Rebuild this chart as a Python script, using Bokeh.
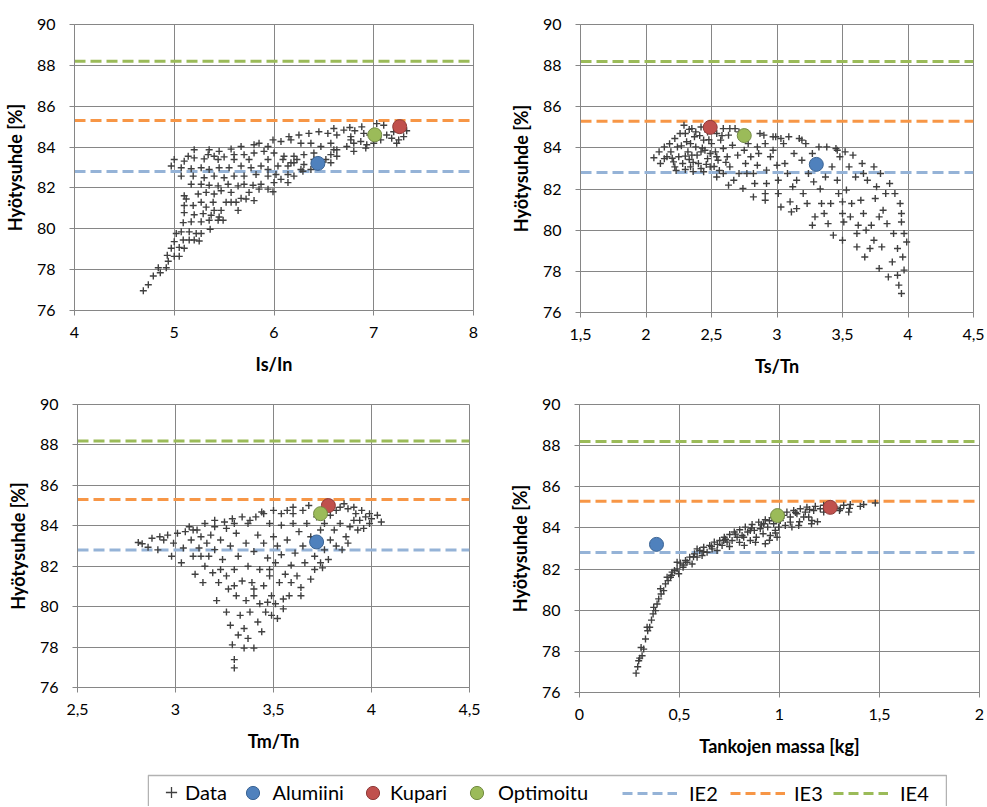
from bokeh.plotting import figure
from bokeh.models import Span, FixedTicker, Legend, LegendItem, BoxAnnotation, Spacer
from bokeh.layouts import row, column
from bokeh.embed import file_html
from bokeh.resources import INLINE

# ---------------- data ----------------
IE2, IE3, IE4 = 82.8, 85.3, 88.2
y_ticks = [76, 78, 80, 82, 84, 86, 88, 90]

# Alumiini, Kupari, Optimoitu efficiency [%]
eff_alu, eff_kup, eff_opt = 83.2, 85.0, 84.6

# Panel 1: Is/In
is_in = [4.69,4.74,4.79,4.84,4.86,4.92,4.94,4.93,4.97,5.00,
5.05,5.10,5.00,5.05,5.02,5.09,5.15,5.20,5.25,5.07,
5.15,5.22,5.27,5.36,5.09,5.17,5.27,5.35,5.44,5.49,
5.10,5.20,5.29,5.37,5.45,5.10,5.12,5.10,5.19,5.27,
5.32,5.39,5.40,5.47,5.52,5.57,5.64,5.62,5.24,5.32,
5.40,5.47,5.57,5.67,5.72,5.80,5.75,5.85,5.94,5.99,
5.17,5.27,5.35,5.44,5.54,5.64,5.70,5.79,5.87,6.00,
6.07,6.14,5.07,5.19,5.30,5.40,5.50,5.60,5.70,5.82,
5.94,6.02,6.14,6.20,6.29,6.37,4.97,5.07,5.17,5.27,
5.35,5.45,5.55,5.67,5.77,5.87,5.94,6.04,6.14,6.20,
6.30,5.00,5.10,5.20,5.30,5.40,5.50,5.60,5.70,5.80,
5.90,6.00,6.10,6.20,6.30,6.40,6.52,6.57,6.63,5.14,
5.20,5.34,5.35,5.45,5.57,5.67,5.80,5.85,5.94,5.99,
6.07,6.17,6.27,6.37,6.47,6.57,6.63,6.73,6.80,6.77,
6.87,6.93,6.92,7.00,7.07,6.15,6.25,6.35,6.45,6.54,
6.63,6.60,6.70,6.76,6.81,6.88,6.90,6.96,7.03,7.10,
7.13,7.20,7.25,7.30,7.33,7.23,7.18,6.77,6.80,6.60,
6.57,6.40,6.47,6.42,6.27,6.23,6.17,6.09,5.44,5.60,
5.75,5.94]
eff1 = [76.97,77.26,77.69,78.09,77.85,78.09,78.41,78.70,79.05,79.37,
79.09,79.05,78.65,78.65,79.77,79.45,79.45,79.45,79.40,79.85,
79.85,79.77,79.77,79.98,80.30,80.34,80.34,80.42,80.42,80.42,
80.79,80.69,80.74,80.66,80.58,81.14,81.46,81.62,81.14,81.30,
81.06,81.30,80.90,80.90,81.30,81.30,80.90,81.30,81.70,81.78,
81.70,81.86,81.78,81.49,81.46,81.38,81.78,81.94,81.94,81.81,
82.18,82.18,82.13,82.10,82.18,82.10,82.18,82.13,82.18,82.26,
82.42,82.26,82.58,82.58,82.50,82.58,82.50,82.58,82.58,82.66,
82.58,82.66,82.66,82.58,82.82,82.90,83.07,82.99,82.94,82.99,
82.90,82.99,82.99,83.07,82.99,83.07,82.90,83.07,83.07,83.23,
83.15,83.39,83.31,83.47,83.42,83.55,83.52,83.63,83.63,83.71,
83.79,83.71,83.55,83.55,83.63,83.71,83.39,83.23,83.55,83.55,
83.87,83.63,83.87,83.79,83.90,84.03,84.11,84.19,84.03,84.35,
84.27,84.35,84.19,84.19,84.03,84.19,83.87,84.03,83.79,84.35,
84.27,84.11,83.95,84.19,84.35,84.51,84.59,84.67,84.75,84.67,
84.59,84.91,84.83,84.96,84.80,84.99,84.67,84.59,85.15,85.07,
84.59,84.75,84.35,84.51,84.80,84.19,84.43,84.51,84.19,83.87,
83.63,83.39,83.23,83.07,82.90,83.39,83.23,83.39,83.39,83.39,
83.39,83.39]
is_in_alu, is_in_kup, is_in_opt = 6.44, 7.26, 7.01

# Panel 2: Ts/Tn
ts_tn = [2.06,2.10,2.11,2.14,2.16,2.19,2.21,2.22,2.24,2.25,
2.28,2.29,2.30,2.31,2.32,2.33,2.34,2.35,2.37,2.38,
2.39,2.40,2.42,2.42,2.44,2.45,2.47,2.44,2.49,2.50,
2.53,2.54,2.55,2.57,2.59,2.59,2.62,2.63,2.64,2.66,
2.68,2.70,2.71,2.67,2.63,2.59,2.54,2.75,2.76,2.77,
2.74,2.78,2.80,2.82,2.83,2.82,2.85,2.86,2.87,2.90,
2.91,2.92,2.92,2.91,2.91,2.95,2.97,2.99,3.00,3.01,
3.01,3.03,3.05,3.06,3.08,3.09,3.10,3.11,3.12,3.13,
3.15,3.15,3.17,3.19,3.20,3.22,3.23,3.24,3.27,3.27,
3.28,3.29,3.32,3.33,3.34,3.36,3.37,3.38,3.39,3.41,
3.42,3.43,3.45,3.46,3.47,3.48,3.50,3.50,3.50,3.51,
3.52,3.53,3.55,3.56,3.57,3.58,3.60,3.61,3.61,3.62,
3.64,3.65,3.66,3.67,3.68,3.69,3.71,3.72,3.74,3.74,
3.75,3.76,3.78,3.78,3.79,3.80,3.81,3.83,3.84,3.85,
3.86,3.88,3.89,3.90,3.92,3.92,3.93,3.94,3.95,3.95,
3.95,3.96,3.97,3.97,3.99,2.26,2.34,2.38,2.47,2.22,
2.14,2.42,2.35,2.49,2.54,2.64,2.71,2.85,2.97,3.03,
3.19,3.46,3.66,2.27,2.30,2.33,2.36,2.41,2.43,2.46,
2.48,2.52,2.56,2.58,2.61,2.20,2.18,2.23,2.30,2.36]
eff2 = [83.52,83.81,83.24,84.05,83.57,83.81,83.32,84.46,84.05,83.57,
83.24,85.10,84.70,84.30,83.81,83.44,83.08,84.94,84.54,84.05,
83.65,83.24,83.00,85.02,84.38,83.89,83.48,82.84,83.08,84.21,
83.81,84.70,83.40,84.38,83.97,84.94,83.57,84.62,83.08,84.13,
84.94,83.65,82.76,82.43,82.19,82.76,82.59,83.89,83.24,82.76,
82.03,84.21,83.57,81.62,82.27,82.76,83.16,83.73,84.70,84.62,
84.21,82.92,82.27,81.46,81.78,83.57,83.89,84.54,83.16,81.78,
82.43,81.13,84.21,83.24,82.76,84.54,81.38,80.89,82.11,83.73,
82.43,81.05,84.46,83.40,81.78,84.21,81.30,82.76,83.73,80.24,
82.35,80.65,84.05,82.00,81.30,80.81,82.59,84.05,80.32,81.30,
83.08,79.76,83.97,82.43,81.78,83.57,79.51,80.81,81.38,80.40,
83.81,81.95,83.08,80.65,81.30,83.65,82.59,79.84,79.19,80.24,
81.46,83.24,80.81,78.70,80.00,82.43,79.11,80.24,83.08,79.51,
81.54,82.11,80.65,78.14,82.76,79.19,80.97,81.78,80.32,77.73,
82.27,78.46,79.84,81.78,79.11,77.81,77.33,81.30,80.81,76.92,
80.40,78.70,79.84,78.06,79.43,84.70,84.21,84.78,84.78,83.08,
83.48,83.81,83.65,83.73,83.57,84.94,84.78,84.05,84.54,84.46,
84.38,83.89,82.76,84.10,83.60,84.90,83.30,84.60,84.00,83.20,
84.40,83.10,82.90,84.60,83.30,83.50,84.20,82.90,82.95,82.85]
ts_tn_alu, ts_tn_kup, ts_tn_opt = 3.30, 2.49, 2.75

# Panel 3: Tm/Tn
tm_tn = [2.81,2.83,2.86,2.88,2.91,2.92,2.94,2.96,2.98,2.99,
3.01,3.03,3.04,3.05,3.07,3.08,3.09,3.10,3.11,3.12,
3.13,3.14,3.15,3.15,3.16,3.17,3.18,3.19,3.20,3.20,
3.21,3.22,3.23,3.24,3.25,3.26,3.26,3.26,3.27,3.28,
3.28,3.29,3.29,3.30,3.30,3.30,3.31,3.31,3.32,3.32,
3.33,3.34,3.34,3.35,3.35,3.36,3.36,3.37,3.37,3.37,
3.38,3.39,3.40,3.40,3.40,3.41,3.42,3.42,3.43,3.43,
3.44,3.44,3.45,3.45,3.46,3.47,3.48,3.48,3.49,3.49,
3.50,3.50,3.51,3.51,3.52,3.52,3.53,3.54,3.54,3.55,
3.56,3.57,3.57,3.58,3.59,3.60,3.60,3.61,3.62,3.63,
3.64,3.65,3.65,3.66,3.67,3.68,3.69,3.69,3.71,3.71,
3.72,3.74,3.74,3.75,3.76,3.76,3.78,3.79,3.79,3.81,
3.82,3.82,3.84,3.85,3.86,3.87,3.88,3.88,3.89,3.91,
3.92,3.93,3.94,3.95,3.96,3.97,3.99,3.99,4.00,4.03,
4.05,3.09,3.20,3.30,3.38,3.45,3.54,3.60,3.74,3.84,
3.91,3.13,3.23,3.30,3.40,3.48,3.59,3.64,3.55,3.47]
eff3 = [83.17,83.11,82.94,83.38,82.81,83.46,83.30,83.54,82.49,83.14,
83.63,82.17,82.90,83.71,83.95,83.30,82.49,81.60,83.79,82.90,
83.46,81.19,82.00,84.11,83.14,82.49,83.54,81.68,83.95,82.82,
80.30,81.19,83.30,82.33,84.19,81.52,79.73,83.87,80.87,83.00,
79.08,84.35,78.11,76.97,77.38,81.84,80.54,83.63,78.60,82.49,
79.57,81.27,84.44,77.95,78.92,83.14,80.30,82.00,84.11,78.43,
79.73,81.19,77.95,82.73,80.54,84.44,79.24,83.54,81.84,80.14,
78.76,84.68,81.03,83.14,79.73,82.41,84.11,81.52,80.54,79.57,
83.46,84.76,82.17,80.14,79.41,83.00,81.19,84.03,82.57,79.89,
81.60,84.76,83.30,80.54,82.05,84.11,84.92,82.65,81.52,83.71,
80.95,84.76,83.00,82.17,84.11,85.00,81.36,83.46,82.49,81.84,
84.44,82.17,83.79,81.92,82.81,84.11,82.33,83.30,84.52,83.79,
84.76,83.00,84.11,82.81,85.09,83.46,83.14,84.84,83.95,84.27,
84.60,83.79,84.27,84.76,83.87,84.44,84.11,84.60,84.35,84.52,
84.19,83.79,84.27,84.11,84.27,84.60,84.60,84.60,84.76,84.92,
84.92,82.49,81.84,81.03,80.87,81.84,81.19,80.54,80.38,80.22]
tm_tn_alu, tm_tn_kup, tm_tn_opt = 3.72, 3.78, 3.74

# Panel 4: Tankojen massa [kg]
massa = [0.283,0.291,0.301,0.313,0.321,0.330,0.341,0.351,0.360,0.368,
0.380,0.388,0.396,0.408,0.421,0.430,0.443,0.455,0.463,0.475,
0.488,0.496,0.505,0.518,0.530,0.538,0.551,0.563,0.575,0.588,
0.601,0.613,0.621,0.638,0.651,0.663,0.674,0.688,0.701,0.713,
0.724,0.738,0.751,0.763,0.774,0.788,0.801,0.813,0.824,0.829,
0.841,0.854,0.863,0.874,0.884,0.896,0.904,0.918,0.929,0.929,
0.941,0.954,0.963,0.971,0.979,0.988,1.004,1.021,1.029,1.037,
1.054,1.062,1.071,1.087,1.096,1.104,1.129,1.137,1.146,1.162,
1.171,1.179,1.204,1.221,1.304,1.321,1.346,1.354,1.404,1.421,
1.479,0.721,0.821,0.854,0.921,0.996,1.054,1.121,1.221,1.279,
0.588,0.488,0.438,0.405,0.371,0.338,0.308,0.296,0.46,0.52,
0.57,0.62,0.66,0.69,0.73,0.78,0.86,0.91,0.95,1.00,
1.08,1.15,1.25,0.75,0.80,0.88,0.95,0.98,1.10,1.16,
1.19,1.30,1.35]
eff4 = [76.94,77.25,77.67,77.79,78.11,78.60,79.00,79.17,79.52,79.82,
79.98,80.30,80.55,80.79,80.95,81.28,81.44,81.60,81.85,81.93,
82.01,81.77,82.29,82.09,82.42,82.33,82.58,82.25,82.74,82.58,
82.90,82.66,83.06,82.82,83.15,82.98,83.31,82.90,83.39,83.15,
83.55,83.31,83.68,83.39,83.80,83.55,83.91,83.63,83.15,84.04,
83.80,83.39,84.17,83.88,83.55,84.28,83.96,83.72,83.23,84.40,
84.04,83.63,84.50,84.20,83.88,83.55,84.36,84.61,84.12,84.77,
84.53,84.04,84.85,84.69,84.12,84.93,84.77,85.01,84.53,84.36,
84.85,85.05,84.93,85.10,84.93,85.10,84.77,85.14,85.05,85.14,
85.21,83.39,83.55,83.88,84.20,84.04,84.28,84.53,84.77,85.01,
82.98,82.33,81.60,81.04,80.14,79.17,78.19,77.54,81.70,82.20,
82.60,82.85,83.10,83.20,83.45,83.70,84.00,84.15,84.35,84.55,
84.75,84.90,85.00,83.10,83.30,83.30,83.40,83.75,84.30,84.20,
84.30,84.85,84.95]
massa_alu, massa_kup, massa_opt = 0.385, 1.254, 0.99

# x axis ticks and labels
x1_ticks, x1_labels = [4, 5, 6, 7, 8], ["4", "5", "6", "7", "8"]
x2_ticks, x2_labels = [1.5, 2, 2.5, 3, 3.5, 4, 4.5], ["1,5", "2", "2,5", "3", "3,5", "4", "4,5"]
x3_ticks, x3_labels = [2.5, 3, 3.5, 4, 4.5], ["2,5", "3", "3,5", "4", "4,5"]
x4_ticks, x4_labels = [0, 0.5, 1, 1.5, 2], ["0", "0,5", "1", "1,5", "2"]

labels = ["Data", "Alumiini", "Kupari", "Optimoitu", "IE2", "IE3", "IE4"]

# ---------------- styling ----------------
GRID = "#868686"
FONT = "Lato"
DATA_C = "#404040"
ALU_F, ALU_L = "#4F81BD", "#3B6494"
KUP_F, KUP_L = "#C0504D", "#8E3B39"
OPT_F, OPT_L = "#9BBB59", "#738B42"
IE2_C, IE3_C, IE4_C = "#95B3D7", "#F79646", "#9BBB59"
DASH = "11 5"


def panel(xs, ys, xa, xk, xo, xlabel, ticks, tlabels, width, height, bl, br, bt, bb):
    p = figure(width=width, height=height, x_range=(ticks[0], ticks[-1]), y_range=(76, 90),
               output_backend="svg", toolbar_location=None,
               min_border_left=bl, min_border_right=br, min_border_top=bt, min_border_bottom=bb)
    p.background_fill_color = "white"
    p.border_fill_color = "white"
    p.outline_line_color = GRID
    p.outline_line_width = 1
    p.xaxis.ticker = FixedTicker(ticks=ticks)
    p.xaxis.major_label_overrides = {float(t): l for t, l in zip(ticks, tlabels)}
    p.yaxis.ticker = FixedTicker(ticks=y_ticks)
    p.xaxis.axis_label = xlabel
    p.yaxis.axis_label = "Hyötysuhde [%]"
    for ax in (p.xaxis[0], p.yaxis[0]):
        ax.axis_line_color = GRID
        ax.major_tick_line_color = GRID
        ax.major_tick_in = 0
        ax.major_tick_out = 5
        ax.minor_tick_line_color = None
        ax.major_label_text_font = FONT
        ax.major_label_text_font_size = "16px"
        ax.major_label_text_color = "black"
        ax.axis_label_text_font = FONT
        ax.axis_label_text_font_size = "18px"
        ax.axis_label_text_font_style = "bold"
        ax.axis_label_text_color = "black"
    p.xaxis.major_label_standoff = 11
    p.yaxis.major_label_standoff = 14
    p.xaxis.axis_label_standoff = 12
    p.yaxis.axis_label_standoff = 8
    p.grid.grid_line_color = GRID
    p.grid.grid_line_width = 1
    for val, col in ((IE2, IE2_C), (IE3, IE3_C), (IE4, IE4_C)):
        p.add_layout(Span(location=val, dimension="width", line_color=col, line_width=3,
                          line_dash=DASH, level="underlay"))
    p.scatter(xs, ys, marker="cross", size=7, line_color=DATA_C, line_width=1.4)
    p.scatter([xa], [eff_alu], marker="circle", size=14, fill_color=ALU_F, line_color=ALU_L, line_width=1)
    p.scatter([xk], [eff_kup], marker="circle", size=14, fill_color=KUP_F, line_color=KUP_L, line_width=1)
    p.scatter([xo], [eff_opt], marker="circle", size=14, fill_color=OPT_F, line_color=OPT_L, line_width=1)
    return p


# page has no margin: figure pixel positions are page positions
p1 = panel(is_in, eff1, is_in_alu, is_in_kup, is_in_opt, "Is/In", x1_ticks, x1_labels,
           490, 380, 73, 17, 19, 70)
p2 = panel(ts_tn, eff2, ts_tn_alu, ts_tn_kup, ts_tn_opt, "Ts/Tn", x2_ticks, x2_labels,
           496, 382, 90, 13, 24, 70)
p3 = panel(tm_tn, eff3, tm_tn_alu, tm_tn_kup, tm_tn_opt, "Tm/Tn", x3_ticks, x3_labels,
           490, 375, 77, 21, 17, 70)
p4 = panel(massa, eff4, massa_alu, massa_kup, massa_opt, "Tankojen massa [kg]", x4_ticks, x4_labels,
           496, 380, 89, 7, 22, 70)

# ---------------- legend strip ----------------
LW, LH = 800, 44
leg = figure(width=LW, height=LH, x_range=(0, LW), y_range=(0, LH), output_backend="svg",
             toolbar_location=None, min_border=0, x_axis_location=None, y_axis_location=None)
leg.outline_line_color = None
leg.grid.visible = False
leg.background_fill_color = "white"
leg.border_fill_color = "white"
leg.add_layout(BoxAnnotation(left=0.75, right=LW - 1, bottom=-10, top=LH - 13,
                             fill_alpha=0, line_color="black", line_width=1.5))

# legend proxies: one point each, placed outside the visible strip
off = [-100]
r_data = leg.scatter(off, off, marker="cross", size=9, line_color=DATA_C, line_width=1.3)
r_alu = leg.scatter(off, off, marker="circle", size=13, fill_color=ALU_F, line_color=ALU_L)
r_kup = leg.scatter(off, off, marker="circle", size=13, fill_color=KUP_F, line_color=KUP_L)
r_opt = leg.scatter(off, off, marker="circle", size=13, fill_color=OPT_F, line_color=OPT_L)
r_ie2 = leg.line(off, off, line_color=IE2_C, line_width=3, line_dash="10 5")
r_ie3 = leg.line(off, off, line_color=IE3_C, line_width=3, line_dash="10 5")
r_ie4 = leg.line(off, off, line_color=IE4_C, line_width=3, line_dash="10 5")

# (label, renderer, x, y, glyph width, glyph height, label standoff)
entries = [(labels[0], r_data, 10, 0, 28, 28, 0),
           (labels[1], r_alu, 88.5, -2.5, 33, 33, 4),
           (labels[2], r_kup, 209, -2.5, 33, 33, 1),
           (labels[3], r_opt, 313, -2.5, 33, 33, 5),
           (labels[4], r_ie2, 475, 1, 55, 18, 12),
           (labels[5], r_ie3, 583, 1, 55, 18, 9),
           (labels[6], r_ie4, 686, 1, 55, 18, 12)]
for lab, r, x0, y0, gw, gh, so in entries:
    lg = Legend(items=[LegendItem(label=lab, renderers=[r])], location=(x0, y0),
                orientation="horizontal", glyph_width=gw, glyph_height=gh, label_height=18,
                label_standoff=so, padding=0, margin=0, spacing=0,
                border_line_color=None, background_fill_alpha=0,
                label_text_font=FONT, label_text_font_size="20px", label_text_color="black")
    leg.add_layout(lg, "center")

layout = column(row(p1, p2), row(p3, p4), row(Spacer(width=147, height=LH), leg))

open("out.html", "w").write(file_html(layout, INLINE))
